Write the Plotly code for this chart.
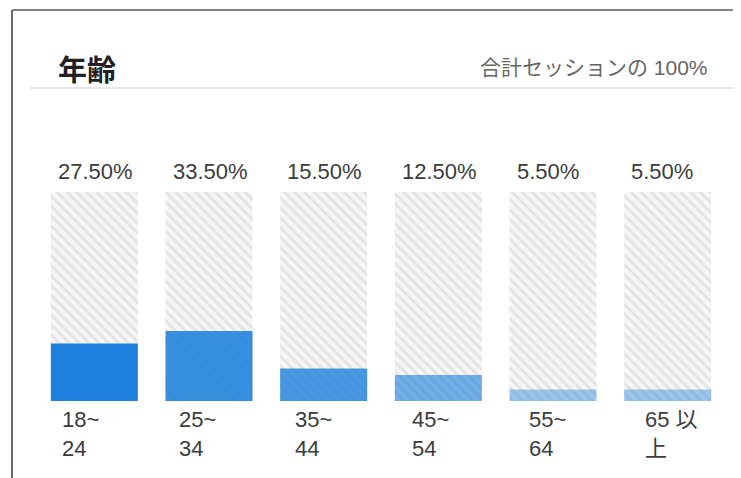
import plotly.graph_objects as go

# ---- data ----
categories = ["18~24", "25~34", "35~44", "45~54", "55~64", "65 以上"]
category_labels = ["18~<br>24", "25~<br>34", "35~<br>44", "45~<br>54", "55~<br>64", "65 以<br>上"]
share_pct = [27.5, 33.5, 15.5, 12.5, 5.5, 5.5]
full_scale = [100, 100, 100, 100, 100, 100]
title_text = "年齢"
subtitle_text = "合計セッションの 100%"

# ---- layout geometry (pixels) ----
O = 8  # page body margin
W, H = 741 - O, 478 - O
ML, MR, MT, MB = 37 - O, 16, 192 - O, 77
PW = W - ML - MR
PH = H - MT - MB


def xp(px):
    return (px - O - ML) / PW


def yp(py):
    return (H - MB - (py - O)) / PH


bar_alpha = [1.0, 0.88, 0.8, 0.62, 0.42, 0.42]
bar_colors = [f"rgba(30,128,220,{a})" for a in bar_alpha]

x_idx = list(range(len(categories)))

fig = go.Figure()
fig.add_trace(go.Bar(
    x=x_idx, y=full_scale,
    marker=dict(color="white", line=dict(width=0),
                pattern=dict(shape="\\", fgcolor="#cfcfcf", bgcolor="#f6f6f6",
                             size=7, solidity=0.4)),
    hoverinfo="skip", showlegend=False,
))
fig.add_trace(go.Bar(
    x=x_idx, y=share_pct,
    marker=dict(color=bar_colors, line=dict(width=0)),
    showlegend=False,
    hovertext=categories, hoverinfo="text+y",
))

annotations = []
font_lat = "Liberation Sans, Arial, Noto Sans CJK JP"
for i, (v, lab) in enumerate(zip(share_pct, category_labels)):
    annotations.append(dict(
        x=i, y=100, xref="x", yref="y", text=f"{v:.2f}%", showarrow=False,
        xanchor="left", yanchor="middle", xshift=-43.5 + 5, yshift=21,
        font=dict(family=font_lat, size=22, color="#3c3c3c"),
    ))
    annotations.append(dict(
        x=i, y=0, xref="x", yref="y", text=lab, showarrow=False, align="left",
        xanchor="left", yanchor="middle", xshift=-43.5 + 9 + 2 * i, yshift=-33,
        font=dict(family=font_lat, size=22, color="#3c3c3c"),
    ))

annotations.append(dict(
    x=xp(56), y=yp(68), xref="paper", yref="paper", text=f"<b>{title_text}</b>",
    showarrow=False, xanchor="left", yanchor="middle",
    font=dict(family="Noto Sans CJK JP", size=29, color="#231f24"),
))
annotations.append(dict(
    x=xp(710), y=yp(67), xref="paper", yref="paper", text=subtitle_text,
    showarrow=False, xanchor="right", yanchor="middle",
    font=dict(family=font_lat, size=21, color="#666666"),
))

shapes = [
    # outer frame (top and left)
    dict(type="line", xref="paper", yref="paper", x0=xp(12), x1=xp(745), y0=yp(10), y1=yp(10),
         line=dict(color="#5a5a5a", width=1.5)),
    dict(type="line", xref="paper", yref="paper", x0=xp(12), x1=xp(12), y0=yp(10), y1=yp(482),
         line=dict(color="#6a6a6a", width=2)),
    # header separator
    dict(type="line", xref="paper", yref="paper", x0=xp(30), x1=xp(735), y0=yp(88), y1=yp(88),
         line=dict(color="#e6e6e6", width=2)),
]

fig.update_layout(
    width=W, height=H,
    margin=dict(l=ML, r=MR, t=MT, b=MB, pad=0),
    paper_bgcolor="white", plot_bgcolor="white",
    barmode="overlay", bargap=0.241,
    xaxis=dict(range=[-0.5, 5.5], visible=False, fixedrange=True),
    yaxis=dict(range=[0, 100], visible=False, fixedrange=True),
    annotations=annotations, shapes=shapes,
    showlegend=False,
)

fig.write_html("out.html", config={"displayModeBar": False})
